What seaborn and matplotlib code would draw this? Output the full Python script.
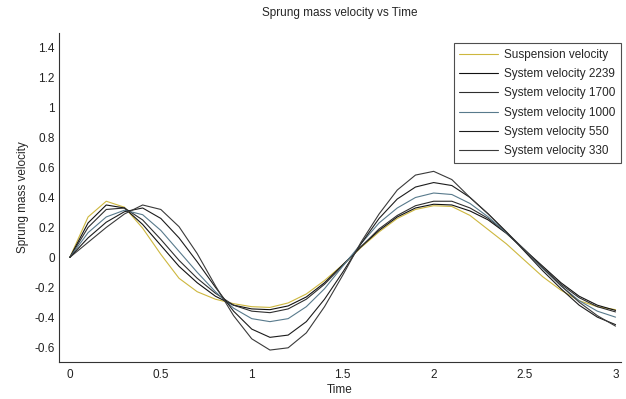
import numpy as np
import pandas as pd
import seaborn as sns
import matplotlib
matplotlib.use('Agg')
import matplotlib.pyplot as plt

# time axis (read every 0.1 s)
time = [round(0.1 * i, 1) for i in range(31)]

suspension = [0, 0.27, 0.375, 0.335, 0.195, 0.02, -0.14, -0.23, -0.28, -0.31, -0.33,
              -0.335, -0.305, -0.245, -0.155, -0.05, 0.065, 0.17, 0.26, 0.32, 0.345,
              0.34, 0.28, 0.185, 0.09, -0.02, -0.13, -0.22, -0.29, -0.33, -0.35]
v2239 = [0, 0.23, 0.35, 0.33, 0.22, 0.08, -0.06, -0.17, -0.26, -0.32, -0.345,
         -0.35, -0.325, -0.265, -0.17, -0.05, 0.07, 0.18, 0.27, 0.33, 0.355,
         0.35, 0.31, 0.25, 0.16, 0.05, -0.06, -0.17, -0.26, -0.32, -0.355]
v1700 = [0, 0.20, 0.32, 0.33, 0.25, 0.12, -0.02, -0.14, -0.24, -0.32, -0.36,
         -0.37, -0.345, -0.28, -0.18, -0.055, 0.07, 0.19, 0.28, 0.345, 0.375,
         0.375, 0.33, 0.26, 0.165, 0.05, -0.07, -0.18, -0.27, -0.33, -0.365]
v1000 = [0, 0.165, 0.27, 0.315, 0.285, 0.18, 0.04, -0.10, -0.23, -0.34, -0.41,
         -0.43, -0.41, -0.33, -0.21, -0.06, 0.09, 0.23, 0.33, 0.40, 0.43,
         0.42, 0.36, 0.27, 0.165, 0.05, -0.075, -0.19, -0.29, -0.36, -0.40]
v550 = [0, 0.13, 0.235, 0.305, 0.33, 0.26, 0.13, -0.03, -0.20, -0.36, -0.48,
        -0.535, -0.52, -0.43, -0.28, -0.10, 0.09, 0.26, 0.39, 0.47, 0.50,
        0.48, 0.40, 0.29, 0.17, 0.04, -0.09, -0.21, -0.32, -0.40, -0.45]
v330 = [0, 0.10, 0.20, 0.29, 0.35, 0.32, 0.205, 0.025, -0.19, -0.39, -0.545,
        -0.62, -0.605, -0.505, -0.33, -0.12, 0.10, 0.29, 0.45, 0.55, 0.575,
        0.52, 0.40, 0.29, 0.17, 0.05, -0.07, -0.19, -0.30, -0.39, -0.46]

labels = ['Suspension velocity', 'System velocity 2239', 'System velocity 1700',
          'System velocity 1000', 'System velocity 550', 'System velocity 330']
colors = ['#cdb73e', '#111111', '#2e2e2e', '#587a8c', '#1c1c1c', '#3a3a3a']

series = [suspension, v2239, v1700, v1000, v550, v330]
df = pd.concat([pd.DataFrame({'Time': time, 'v': s, 'series': lab})
                for s, lab in zip(series, labels)], ignore_index=True)

sns.set_style('white')
plt.rcParams['font.family'] = ['Liberation Sans', 'DejaVu Sans']
plt.rcParams['font.size'] = 8.5

fig = plt.figure(figsize=(6.26, 3.99), dpi=100)
ax = fig.add_axes([0.0942, 0.0927, 0.8978, 0.8246])
sns.lineplot(data=df, x='Time', y='v', hue='series', hue_order=labels,
             palette=dict(zip(labels, colors)), linewidth=0.8, ax=ax)

ax.set_xlim(-0.06, 3.03)
ax.set_ylim(-0.7, 1.5)
ax.set_xticks([0, 0.5, 1, 1.5, 2, 2.5, 3])
ax.set_xticklabels(['0', '0.5', '1', '1.5', '2', '2.5', '3'])
ax.set_yticks([-0.6, -0.4, -0.2, 0, 0.2, 0.4, 0.6, 0.8, 1, 1.2, 1.4])
ax.set_yticklabels(['-0.6', '-0.4', '-0.2', '0', '0.2', '0.4', '0.6', '0.8', '1', '1.2', '1.4'])
ax.tick_params(direction='in', length=4, width=0.7, colors='#333333', labelsize=8.5,
               labelcolor='#222222', pad=3)
ax.tick_params(axis='x', pad=5)
for s in ['top', 'right']:
    ax.spines[s].set_visible(False)
for s in ['left', 'bottom']:
    ax.spines[s].set_color('#333333')
    ax.spines[s].set_linewidth(0.8)

ax.set_xlabel('Time', fontsize=8.5, labelpad=2)
ax.set_ylabel('Sprung mass velocity', fontsize=8.5, labelpad=4)
ax.set_title('Sprung mass velocity vs Time', fontsize=8.5, pad=12)

leg = ax.legend(loc='upper right', bbox_to_anchor=(1.0, 0.97), borderaxespad=0,
                fancybox=False, frameon=True, fontsize=8.5, handlelength=3.3,
                handletextpad=0.45, labelspacing=0.62, borderpad=0.5)
leg.get_frame().set_edgecolor('#222222')
leg.get_frame().set_linewidth(0.8)
leg.set_title(None)

fig.savefig('out.png', dpi=100)
